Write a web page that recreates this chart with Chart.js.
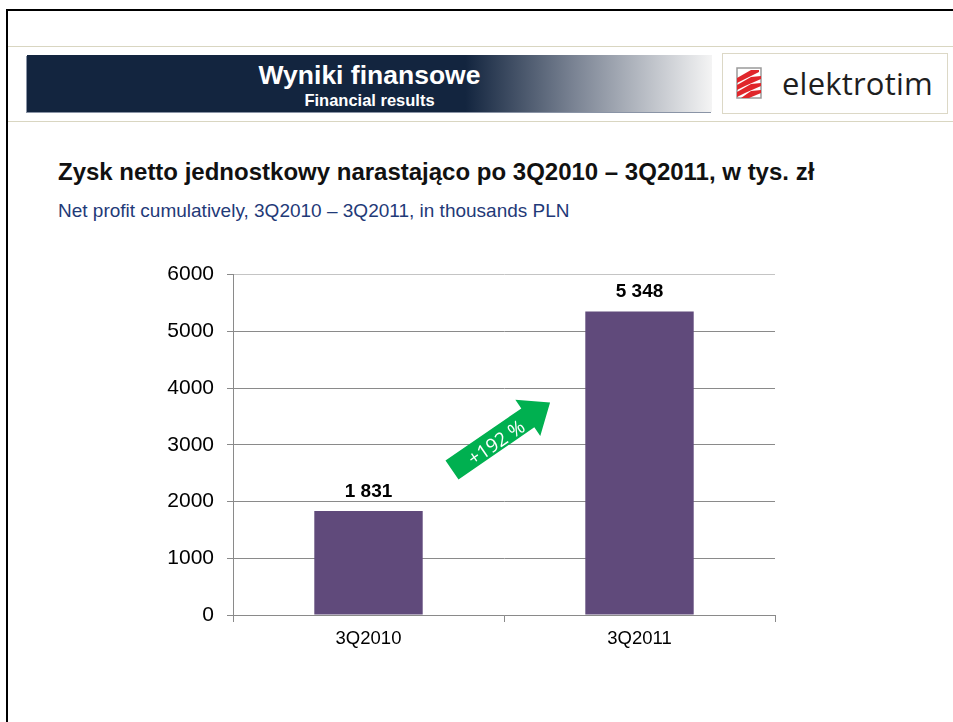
<!DOCTYPE html>
<html>
<head>
<meta charset="utf-8">
<script src="https://cdn.jsdelivr.net/npm/chart.js@4.4.0/dist/chart.umd.min.js"></script>
<style>
  html, body { margin: 0; padding: 0; background: #fff; }
  body { width: 953px; height: 722px; position: relative; overflow: hidden; font-family: "Liberation Sans", Arial, sans-serif; }
  .frame-top { position: absolute; left: 6px; top: 9px; width: 947px; height: 2px; background: #000; }
  .frame-left { position: absolute; left: 6px; top: 9px; width: 2px; height: 713px; background: #000; }
  .rule { position: absolute; left: 8px; width: 945px; height: 1px; background: #d9d6c1; }
  .banner {
    position: absolute; left: 27px; top: 55px; width: 685px; height: 57px;
    background: linear-gradient(to right, #13253f 0%, #13253f 64%, #7b8494 80%, #f4f4f4 100%);
    box-shadow: -1px 1px 0 #8a94a6;
    color: #fff; text-align: center;
  }
  .banner .t1 { font-weight: bold; font-size: 26.5px; line-height: 28px; margin-top: 6px; }
  .banner .t2 { font-weight: bold; font-size: 16.5px; line-height: 18px; margin-top: 2px; }
  .logo {
    position: absolute; left: 722px; top: 53px; width: 224px; height: 59px;
    border: 1px solid #dcd8c6; background: #fff;
  }
  .logo .name { position: absolute; left: 59px; top: 8px; font-family: "Open Sans", sans-serif; font-size: 31px; color: #1e1e1e; letter-spacing: 0.2px; }
  h1 { position: absolute; left: 58px; top: 158px; margin: 0; font-size: 24px; line-height: 28px; font-weight: bold; color: #111; }
  .sub { position: absolute; left: 58px; top: 200px; font-size: 19px; line-height: 22px; color: #1f3a78; }
  #chart { position: absolute; left: 140px; top: 249px; }
  #arrow { position: absolute; left: 0; top: 0; }
</style>
</head>
<body>
<div class="frame-top"></div>
<div class="frame-left"></div>
<div class="rule" style="top:46px"></div>
<div class="rule" style="top:121px"></div>

<div class="banner">
  <div class="t1">Wyniki finansowe</div>
  <div class="t2">Financial results</div>
</div>

<div class="logo">
  <svg width="40" height="40" style="position:absolute;left:12px;top:12px" viewBox="0 0 40 40">
    <rect x="2" y="2" width="24" height="30" fill="none" stroke="#9a9a9a" stroke-width="1.5"/>
    <g fill="#e0262b">
      <polygon points="2,12 16,4 24,4 24,6 10,13 2,17"/>
      <polygon points="2,19 16,11 26,10 26,13 10,20 2,24"/>
      <polygon points="2,26 16,18 26,17 26,20 10,27 2,31"/>
      <polygon points="6,32 16,25 26,24 26,27 14,32"/>
    </g>
  </svg>
  <div class="name">elektrotim</div>
</div>

<h1>Zysk netto jednostkowy narastająco po 3Q2010 – 3Q2011, w tys. zł</h1>
<div class="sub">Net profit cumulatively, 3Q2010 – 3Q2011, in thousands PLN</div>

<canvas id="chart" width="680" height="416"></canvas>

<svg id="arrow" width="953" height="722">
  <g transform="translate(452,470) rotate(-34.5)">
    <polygon points="0,-11.5 92,-11.5 92,-22 119,0 92,22 92,11.5 0,11.5" fill="#00b050"/>
    <text x="52" y="2" fill="#fff" font-family="Open Sans, sans-serif" font-size="19" text-anchor="middle" dominant-baseline="central">+192 %</text>
  </g>
</svg>

<script>
const categories = ["3Q2010", "3Q2011"];
const netProfit = [1831, 5348];
const yTicks = [0, 1000, 2000, 3000, 4000, 5000, 6000];

function formatThousands(v) {
  return String(v).replace(/\B(?=(\d{3})+(?!\d))/g, " ");
}

// labels above bars
const valueLabels = {
  id: "valueLabels",
  afterDatasetsDraw(chart) {
    const ctx = chart.ctx;
    const meta = chart.getDatasetMeta(0);
    ctx.save();
    ctx.font = "bold 19px 'Liberation Sans', Arial, sans-serif";
    ctx.fillStyle = "#000";
    ctx.textAlign = "center";
    ctx.textBaseline = "bottom";
    meta.data.forEach((bar, i) => {
      ctx.fillText(formatThousands(netProfit[i]), bar.x, bar.y - 10);
    });
    ctx.restore();
  },
};

new Chart(document.getElementById("chart").getContext("2d"), {
  type: "bar",
  data: {
    labels: categories,
    datasets: [
      {
        data: netProfit,
        backgroundColor: "#604a7b",
        barPercentage: 0.8,
        categoryPercentage: 0.5,
      },
    ],
  },
  options: {
    responsive: false,
    devicePixelRatio: 1,
    animation: false,
    layout: { padding: { top: 12, right: 45, left: 0, bottom: 0 } },
    plugins: { legend: { display: false }, tooltip: { enabled: false } },
    scales: {
      x: {
        grid: { drawOnChartArea: false, offset: true, tickLength: 7, color: "#8a8a8a" },
        border: { color: "#8a8a8a" },
        ticks: { color: "#000", font: { size: 18.5, family: "'Liberation Sans', Arial" }, padding: 6 },
        afterFit(scale) { scale.height = 50; },
      },
      y: {
        min: 0,
        max: 6000,
        afterBuildTicks(scale) { scale.ticks = yTicks.map((v) => ({ value: v })); },
        grid: {
          color: (c) => (c.tick && c.tick.value === 6000 ? "#c4c4c4" : "#8a8a8a"),
          tickColor: "#8a8a8a",
          tickLength: 6,
        },
        border: { color: "#8a8a8a" },
        ticks: {
          color: "#000",
          font: { size: 21, family: "'Liberation Sans', Arial" },
          padding: 13,
          callback: (v) => String(v),
        },
        afterFit(scale) { scale.width = 93; },
      },
    },
  },
  plugins: [valueLabels],
});
</script>
</body>
</html>
